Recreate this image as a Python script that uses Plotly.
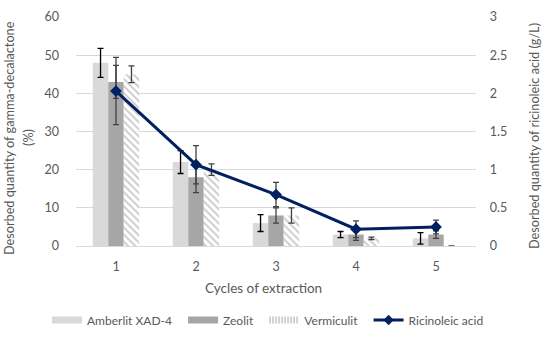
import plotly.graph_objects as go

cycles = ["1", "2", "3", "4", "5"]
amberlit = [48, 22, 6, 3, 2]
amberlit_err = [3.8, 3, 2.2, 0.8, 1.5]
zeolit = [43, 18, 8, 3, 3]
zeolit_err = [4.3, 4, 2, 1.5, 1]
vermiculit = [45, 20, 8, 2, 0]
vermiculit_err = [2.2, 1.5, 2, 0.3, 0]
ricinoleic = [2.03, 1.065, 0.674, 0.22, 0.25]
ricinoleic_err = [0.44, 0.25, 0.16, 0.11, 0.09]

FONT = "Lato"
TXT = "#595959"
GAP = "\u00a0\u00a0"

def eb(arr, color="#000000"):
    return dict(type="data", array=arr, visible=True, color=color, thickness=1.3, width=3)

fig = go.Figure()
fig.add_trace(go.Bar(x=cycles, y=amberlit, name="Amberlit XAD-4", showlegend=False,
                     marker=dict(color="#D9D9D9", line=dict(width=0)),
                     error_y=eb(amberlit_err)))
fig.add_trace(go.Bar(x=cycles, y=zeolit, name="Zeolit", showlegend=False,
                     marker=dict(color="#A6A6A6", line=dict(width=0)),
                     error_y=eb(zeolit_err, "#404040")))
fig.add_trace(go.Bar(x=cycles, y=vermiculit, name="Vermiculit", showlegend=False,
                     marker=dict(color="#FFFFFF", line=dict(width=0),
                                 pattern=dict(shape="\\", fgcolor="#9A9A9A", bgcolor="#FFFFFF",
                                              size=5, solidity=0.4)),
                     error_y=eb(vermiculit_err, "#404040")))
fig.add_trace(go.Scatter(x=cycles, y=ricinoleic, name="Ricinoleic acid", yaxis="y2",
                         mode="lines+markers", showlegend=False,
                         line=dict(color="#002060", width=3),
                         marker=dict(symbol="diamond", size=9, color="#002060"),
                         error_y=eb(ricinoleic_err, "#404040")))

# legend-only proxies (wide swatches like the original)
fig.add_trace(go.Scatter(x=[None], y=[None], name="Amberlit XAD-4" + GAP, mode="lines",
                         line=dict(color="#D9D9D9", width=7)))
fig.add_trace(go.Scatter(x=[None], y=[None], name="Zeolit" + GAP, mode="lines",
                         line=dict(color="#A6A6A6", width=7)))
fig.add_trace(go.Scatter(x=[None], y=[None], name="Vermiculit" + GAP, mode="lines",
                         line=dict(color="#C4C4C4", width=7, dash="1.5px,1.5px")))
fig.add_trace(go.Scatter(x=[None], y=[None], name="Ricinoleic acid", mode="lines+markers",
                         line=dict(color="#002060", width=3),
                         marker=dict(symbol="diamond", size=8, color="#002060")))

fig.update_layout(
    width=550, height=340,
    margin=dict(l=76, r=74, t=17, b=94, autoexpand=False),
    plot_bgcolor="white", paper_bgcolor="white",
    font=dict(family=FONT, size=12, color=TXT),
    barmode="group", bargap=0.42, bargroupgap=0,
    showlegend=True,
    legend=dict(orientation="h", x=(47 - 76) / 400, xanchor="left", y=-(320 - 246) / 229,
                yanchor="middle", font=dict(family=FONT, size=12, color=TXT),
                itemwidth=30, traceorder="normal"),
    xaxis=dict(showgrid=False, showline=True, linecolor="#D9D9D9", linewidth=1,
               ticks="", tickfont=dict(size=12.5, color=TXT), ticklabelstandoff=9),
    yaxis=dict(range=[0, 60], dtick=10, showgrid=True, gridcolor="#D9D9D9", gridwidth=1,
               zeroline=False, showline=False, ticks="", tickfont=dict(size=12.5, color=TXT),
               ticksuffix="     "),
    yaxis2=dict(range=[0, 3], dtick=0.5, overlaying="y", side="right", showgrid=False,
                zeroline=False, showline=False, ticks="", tickfont=dict(size=12.5, color=TXT),
                tickprefix="    "),
    annotations=[
        dict(text="Cycles of extraction", xref="paper", yref="paper", x=(263 - 76) / 400,
             y=-(288 - 246) / 229, showarrow=False, xanchor="center", yanchor="middle",
             font=dict(size=13.5, color=TXT)),
        dict(text="Desorbed quantity of gamma-decalactone", xref="paper", yref="paper",
             x=-(76 - 9) / 400, y=(246 - 138) / 229, textangle=-90, showarrow=False,
             xanchor="center", yanchor="middle", font=dict(size=12.7, color=TXT)),
        dict(text="(%)", xref="paper", yref="paper",
             x=-(76 - 28) / 400, y=(246 - 138) / 229, textangle=-90, showarrow=False,
             xanchor="center", yanchor="middle", font=dict(size=12.7, color=TXT)),
        dict(text="Desorbed quantity of ricinoleic acid (g/L)", xref="paper", yref="paper",
             x=1 + (534 - 476) / 400, y=(246 - 136) / 229, textangle=-90, showarrow=False,
             xanchor="center", yanchor="middle", font=dict(size=12.7, color=TXT)),
    ],
)

fig.write_html("out.html", config={"displayModeBar": False},
               post_script="document.body.style.margin='0';")
